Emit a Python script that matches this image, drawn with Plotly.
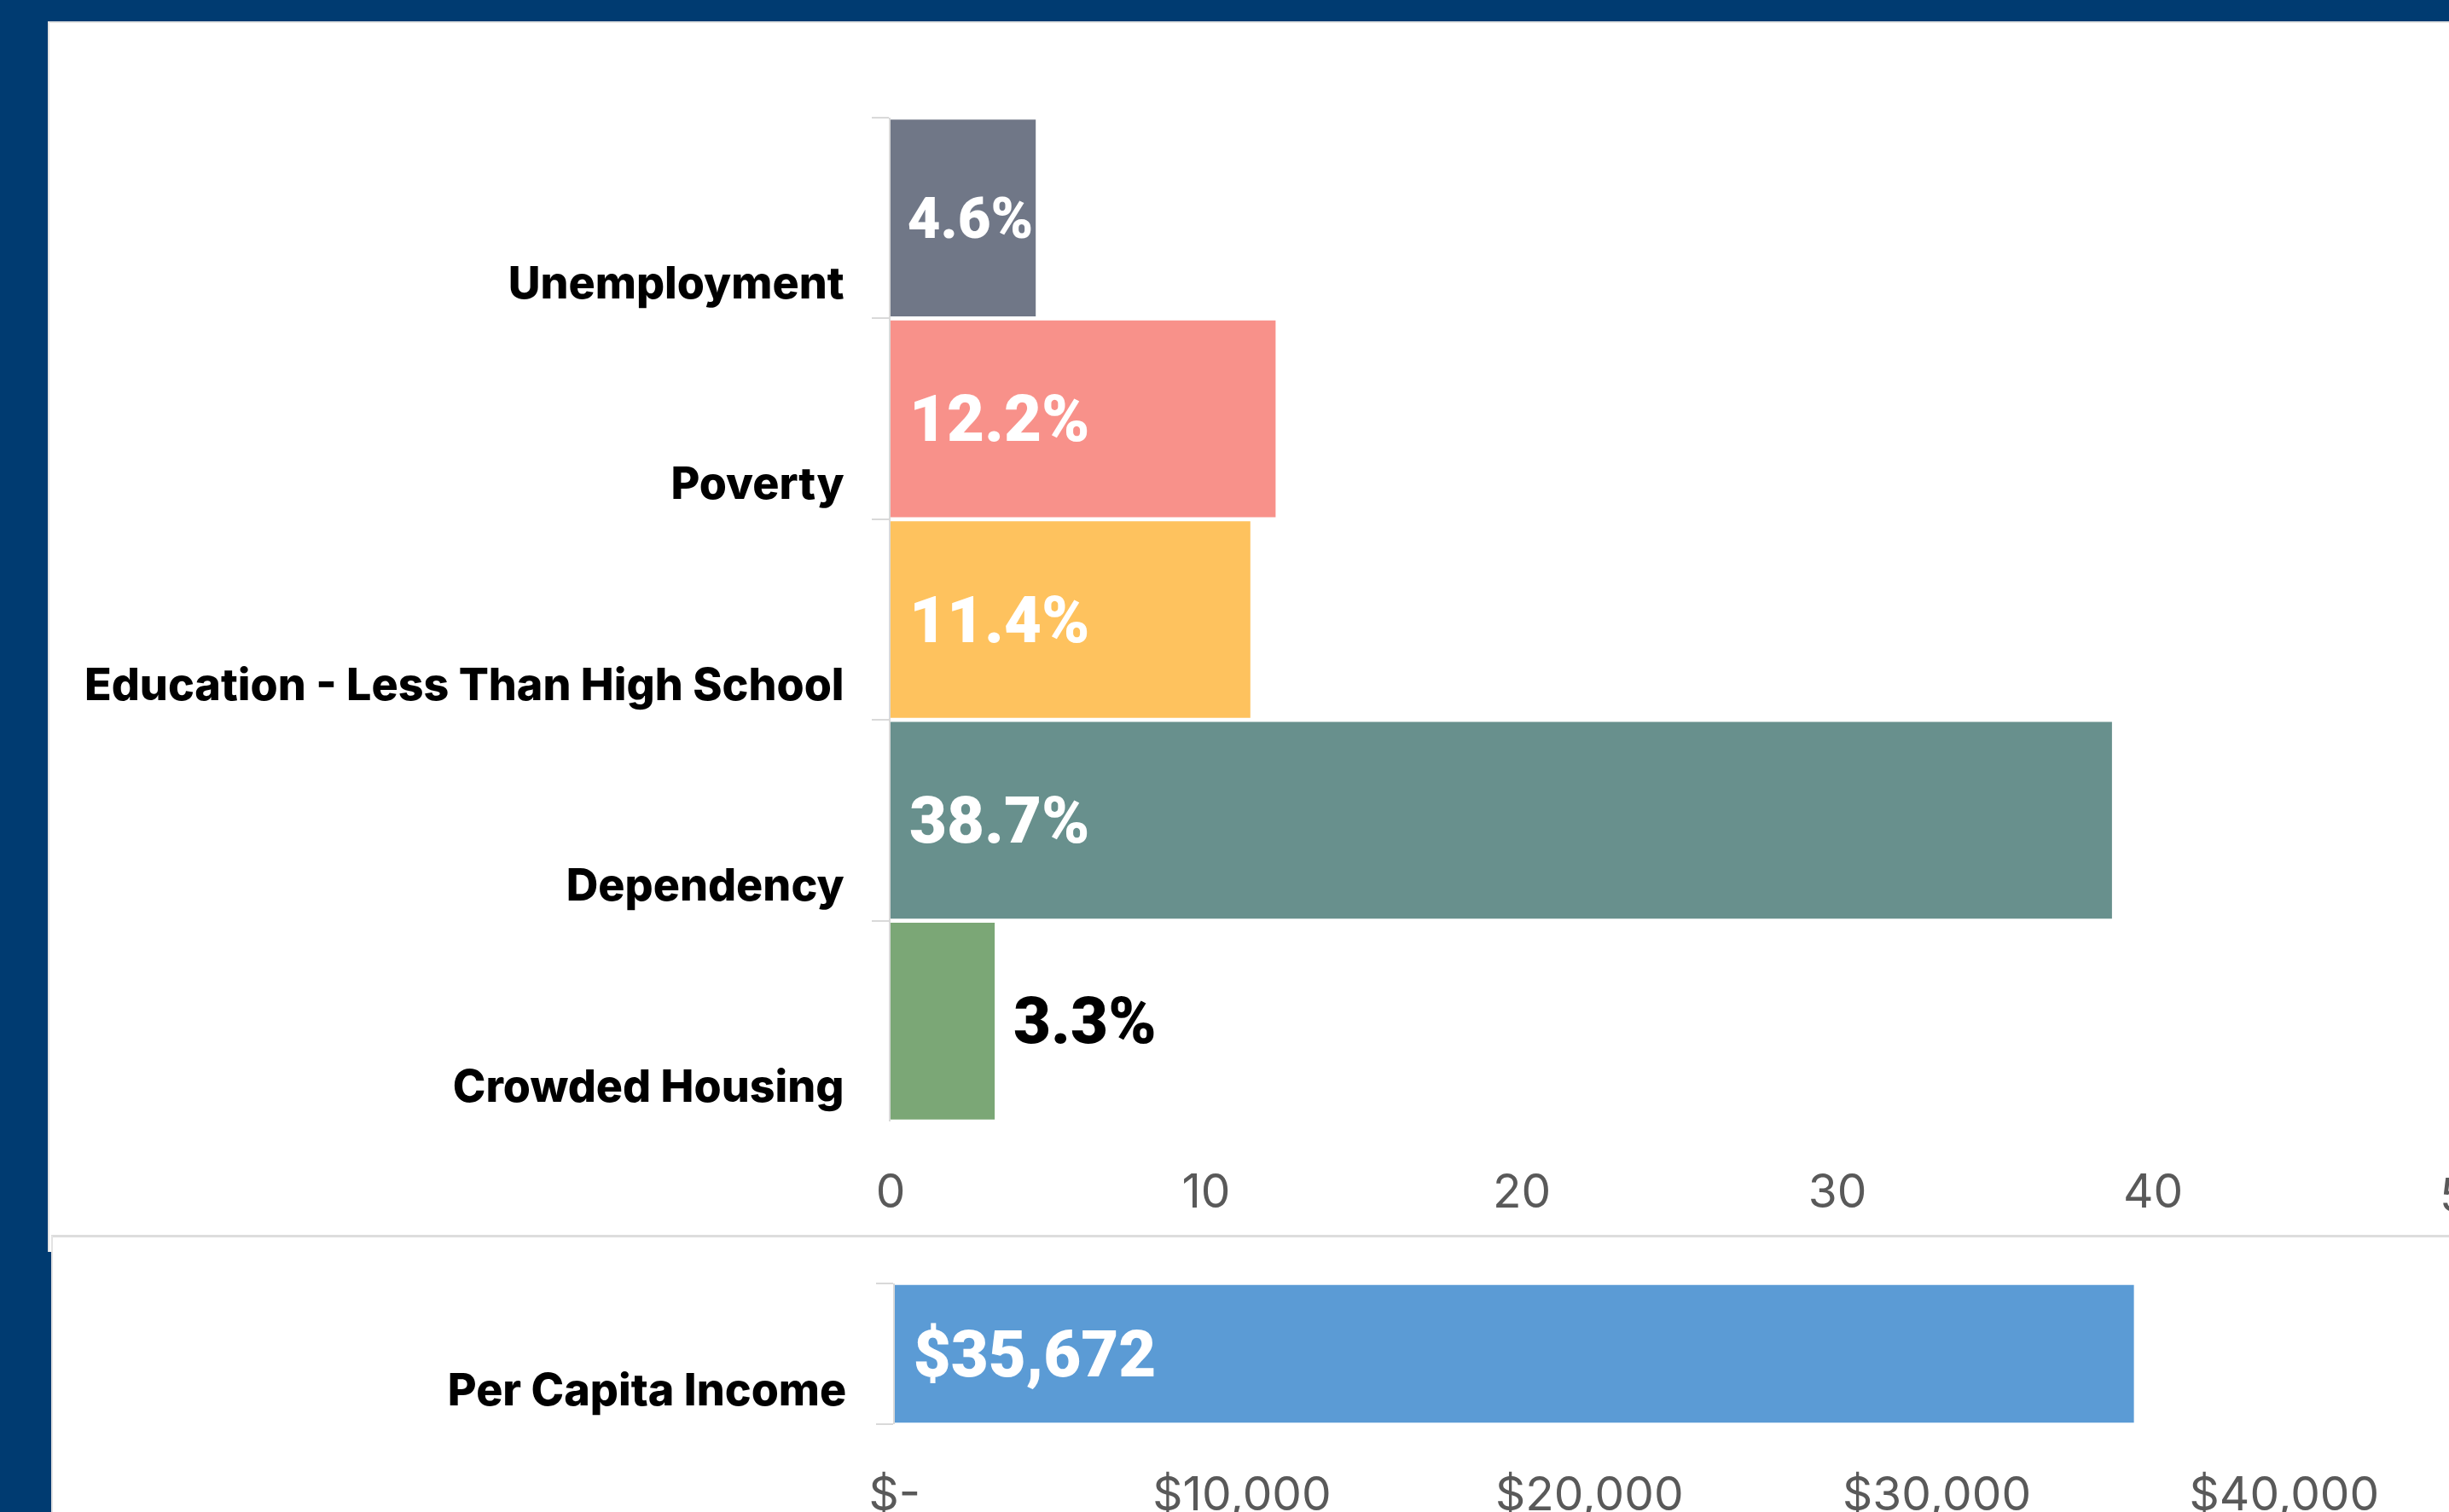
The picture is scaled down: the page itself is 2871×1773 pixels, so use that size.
import plotly.graph_objects as go

# ---------------- data ----------------
categories = ["Unemployment", "Poverty", "Education - Less Than High School",
              "Dependency", "Crowded Housing"]
values = [4.6, 12.2, 11.4, 38.7, 3.3]
value_labels = ["4.6%", "12.2%", "11.4%", "38.7%", "3.3%"]
label_positions = ["inside", "inside", "inside", "inside", "outside"]
bar_colors = ["#707787", "#F8918A", "#FEC25E", "#68908D", "#7BA776"]
pct_ticks = [0, 10, 20, 30, 40, 50]

income_category = ["Per Capita Income"]
income_values = [35672]
income_labels = ["$35,672"]
income_color = ["#5B9BD5"]
income_ticks = [0, 10000, 20000, 30000, 40000]
income_ticktext = ["$-", "$10,000", "$20,000", "$30,000", "$40,000"]

# ---------------- geometry (pixels) ----------------
W, H = 2871, 1773
TOP_X0, PX_PER_PCT = 1044.0, 37.0
TOP_Y0, TOP_Y1 = 138.0, 1315.0
BOT_X0, PX_PER_USD = 1048.7, 0.04073
BOT_Y0, BOT_Y1 = 1505.0, 1670.0

def px(x):
    return x / W

def py(y):
    return 1 - y / H

NAVY = "#003B71"
AXIS_GRAY = "#D9D9D9"
TICK_FONT = dict(family="Inter", size=55, color="#595959")
CAT_FONT = dict(family="Inter", size=52, color="#000000", weight=800)
VAL_FAMILY = "Roboto"
VAL_FONT_IN = dict(family=VAL_FAMILY, size=76, color="white", weight=900)
VAL_FONT_OUT = dict(family=VAL_FAMILY, size=76, color="black", weight=900)

fig = go.Figure()

fig.add_trace(go.Bar(
    y=categories, x=values, orientation="h",
    marker=dict(color=bar_colors, line=dict(width=0)),
    text=value_labels, texttemplate="\u00a0%{text}",
    textposition=label_positions, insidetextanchor="start", textangle=0,
    insidetextfont=VAL_FONT_IN, outsidetextfont=VAL_FONT_OUT,
    xaxis="x", yaxis="y", hoverinfo="skip", showlegend=False,
))

fig.add_trace(go.Bar(
    y=income_category, x=income_values, orientation="h",
    marker=dict(color=income_color, line=dict(width=0)),
    text=income_labels, texttemplate="\u00a0%{text}",
    textposition="inside", insidetextanchor="start", textangle=0,
    insidetextfont=VAL_FONT_IN,
    xaxis="x2", yaxis="y2", hoverinfo="skip", showlegend=False,
))

top_range = (W - TOP_X0) / PX_PER_PCT
bot_range = (W - BOT_X0) / PX_PER_USD

fig.update_layout(
    width=W, height=H,
    margin=dict(l=0, r=0, t=0, b=0, pad=0),
    paper_bgcolor="white", plot_bgcolor="white",
    bargap=0.02,
    font=dict(family="Inter"),
    xaxis=dict(
        domain=[px(TOP_X0), 1], anchor="y", range=[0, top_range],
        tickmode="array", tickvals=pct_ticks, ticks="",
        showgrid=False, zeroline=False, showline=False,
        tickfont=TICK_FONT, ticklabelstandoff=45, automargin=False,
    ),
    yaxis=dict(
        domain=[py(TOP_Y1), py(TOP_Y0)], anchor="x", type="category",
        categoryorder="array", categoryarray=categories, autorange="reversed",
        tickson="boundaries", ticks="outside", ticklen=20, tickwidth=2,
        tickcolor=AXIS_GRAY, showline=True, linecolor=AXIS_GRAY, linewidth=2,
        showgrid=False, zeroline=False,
        tickfont=CAT_FONT, ticklabelshift=-76, ticklabelstandoff=42,
        automargin=False,
    ),
    xaxis2=dict(
        domain=[px(BOT_X0), 1], anchor="y2", range=[0, bot_range],
        tickmode="array", tickvals=income_ticks, ticktext=income_ticktext,
        ticks="", showgrid=False, zeroline=False, showline=False,
        tickfont=TICK_FONT, ticklabelstandoff=45, automargin=False,
    ),
    yaxis2=dict(
        domain=[py(BOT_Y1), py(BOT_Y0)], anchor="x2", type="category",
        tickson="boundaries", ticks="outside", ticklen=20, tickwidth=2,
        tickcolor=AXIS_GRAY, showline=True, linecolor=AXIS_GRAY, linewidth=2,
        showgrid=False, zeroline=False,
        tickfont=CAT_FONT, ticklabelshift=42, ticklabelstandoff=44,
        automargin=False,
    ),
)

# partially visible "50" tick label at the cropped right edge
fig.add_annotation(
    xref="paper", yref="paper",
    x=px(TOP_X0 + pct_ticks[-1] * PX_PER_PCT), y=py(TOP_Y1),
    text=str(pct_ticks[-1]), showarrow=False, xanchor="center", yanchor="top",
    yshift=-51, font=TICK_FONT,
)

# frame / panel decoration
shapes = [
    dict(type="rect", x0=0, x1=1, y0=py(25), y1=1, fillcolor=NAVY, line_width=0),
    dict(type="rect", x0=0, x1=px(56), y0=0, y1=1, fillcolor=NAVY, line_width=0),
    dict(type="rect", x0=px(56), x1=px(60), y0=0, y1=py(1468), fillcolor=NAVY, line_width=0),
    dict(type="line", x0=px(56), x1=1, y0=py(26), y1=py(26), line=dict(color="#E3E3E3", width=2)),
    dict(type="line", x0=px(57), x1=px(57), y0=py(1468), y1=py(25), line=dict(color="#E3E3E3", width=2)),
    dict(type="line", x0=px(60), x1=1, y0=py(1449.5), y1=py(1449.5), line=dict(color="#DDDDDD", width=3)),
    dict(type="line", x0=px(61), x1=px(61), y0=0, y1=py(1449), line=dict(color="#E3E3E3", width=2)),
]
for s in shapes:
    s.update(xref="paper", yref="paper", layer="below")
fig.update_layout(shapes=shapes)

fig.write_html("out.html", config={"displayModeBar": False})
